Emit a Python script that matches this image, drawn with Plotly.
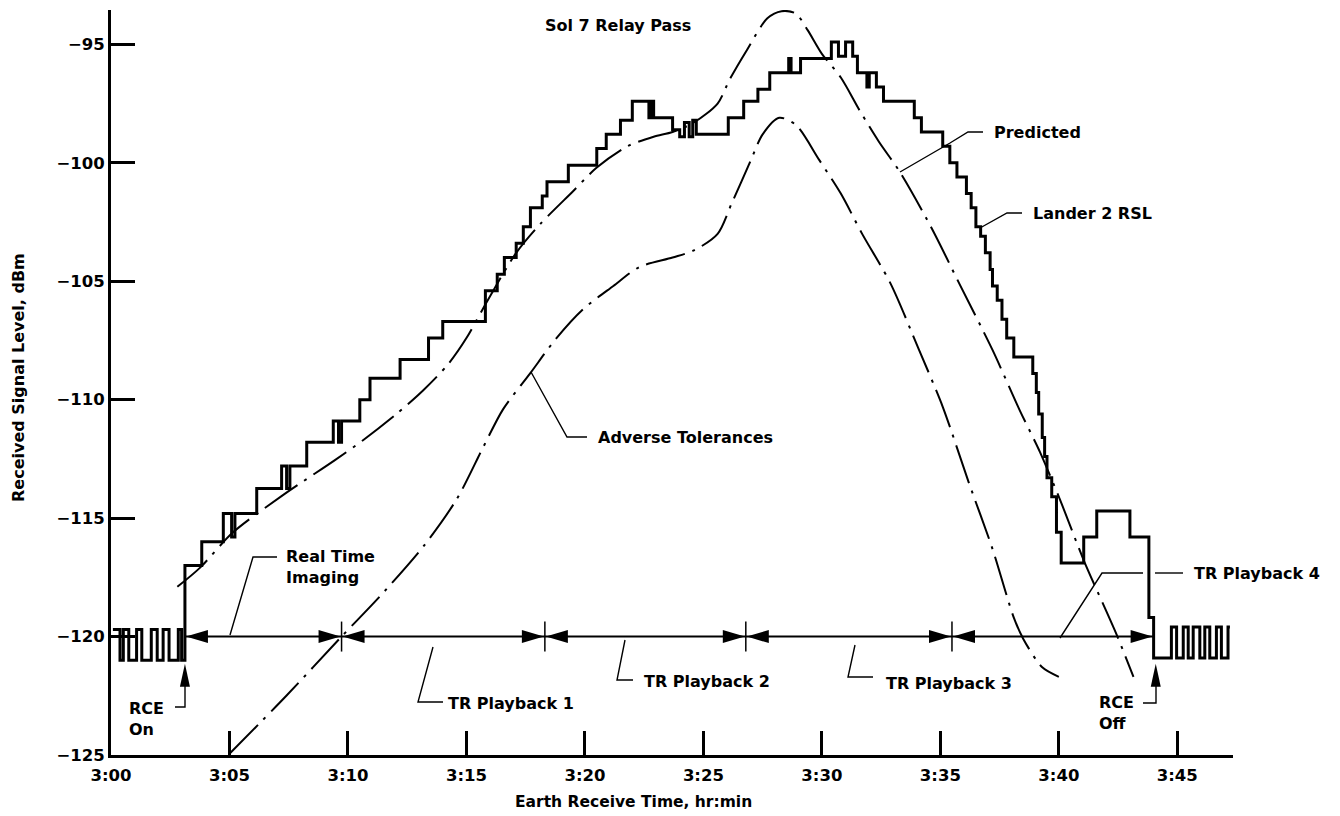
import plotly.graph_objects as go

# ---------------- data (minutes after 3:00, dBm) ----------------
TIME_TICKS = [0, 5, 10, 15, 20, 25, 30, 35, 40, 45]
TIME_LABELS = ["3:00", "3:05", "3:10", "3:15", "3:20", "3:25", "3:30", "3:35", "3:40", "3:45"]
LEVEL_TICKS = [-125, -120, -115, -110, -105, -100, -95]

# Lander 2 RSL (step record: level holds from each time to the next)
RSL_MIN = [0.08, 0.38, 0.52, 0.75, 1.08, 1.30, 1.70, 1.95, 2.20, 2.45, 2.84, 2.98,
           3.12, 3.83, 4.74, 5.09, 5.23, 6.15, 7.20, 7.41, 7.55, 8.26, 9.38, 9.60,
           9.73, 10.50, 10.93, 12.20, 13.40, 14.00, 15.80, 16.30, 16.60, 17.10, 17.40,
           17.70, 18.20, 18.40, 19.30, 20.50, 20.90, 21.50, 22.00, 22.70, 22.80, 22.90,
           23.70, 24.00, 24.20, 24.40, 24.55, 24.70, 26.05, 26.70, 27.30, 27.80, 28.60,
           28.70, 29.10, 30.40, 30.70, 31.00, 31.30, 31.50, 31.90, 32.00, 32.30, 32.60,
           33.90, 34.20, 35.10, 35.40, 35.70, 36.10, 36.30, 36.50, 36.70, 36.90, 37.10,
           37.20, 37.40, 37.60, 37.80, 38.10, 38.90, 39.05, 39.15, 39.30, 39.40, 39.50,
           39.70, 39.90, 40.10, 41.05, 41.60, 43.00, 43.80, 44.00, 44.75, 44.97, 45.25,
           45.46, 45.67, 45.95, 46.16, 46.37, 46.65, 46.86, 47.14, 47.22]
RSL_DBM = [-119.7, -121.0, -119.7, -121.0, -119.7, -121.0, -119.7, -121.0, -119.7, -121.0, -119.7, -121.0,
           -117.0, -116.0, -114.8, -115.8, -114.8, -113.75, -112.8, -113.75, -112.8, -111.8, -110.9, -111.8,
           -110.9, -110.0, -109.1, -108.3, -107.4, -106.7, -105.4, -104.7, -104.0, -103.4, -102.7,
           -101.9, -101.4, -100.8, -100.1, -99.4, -98.8, -98.2, -97.4, -98.1, -97.4, -98.1,
           -98.6, -98.9, -98.3, -98.9, -98.2, -98.8, -98.1, -97.4, -96.9, -96.2, -95.6,
           -96.2, -95.6, -94.9, -95.5, -94.9, -95.5, -96.2, -96.8, -96.2, -96.8, -97.4,
           -98.1, -98.7, -99.3, -100.0, -100.6, -101.3, -101.9, -102.7, -103.1, -103.8, -104.5,
           -105.2, -105.8, -106.6, -107.4, -108.2, -108.9, -109.7, -110.6, -111.6, -112.4, -113.3,
           -114.1, -115.6, -116.9, -115.8, -114.7, -115.8, -119.2, -120.9, -119.6, -120.9, -119.6,
           -120.9, -119.6, -120.9, -119.6, -120.9, -119.6, -120.9, -119.6, -119.6]

# Predicted
PRED_MIN = [2.8, 3.75, 5.15, 7.3, 9.45, 10.65, 12.05, 13.18, 14.23, 15.0, 15.9, 17.1, 18.1,
            19.5, 20.5, 21.8, 22.9, 23.7, 24.6, 25.6, 26.1, 26.8, 27.7, 28.3, 28.9, 29.4,
            30.0, 30.8, 31.6, 32.4, 33.3, 34.6, 35.8, 37.2, 38.35, 39.2, 40.04, 41.06,
            42.43, 43.15]
PRED_DBM = [-117.9, -117.1, -115.6, -114.0, -112.55, -111.7, -110.6, -109.6, -108.5, -107.4,
            -105.8, -103.8, -102.6, -101.2, -100.2, -99.3, -98.9, -98.7, -98.3, -97.5, -96.5,
            -95.3, -93.9, -93.6, -93.7, -94.4, -95.4, -96.4, -97.8, -99.1, -100.4, -102.7,
            -105.1, -107.9, -110.45, -112.2, -114.2, -116.8, -119.9, -121.7]

# Adverse Tolerances
ADV_MIN = [5.0, 7.4, 9.73, 11.35, 13.18, 14.59, 15.71, 16.55, 17.68, 18.8, 19.9, 21.2, 22.3,
           23.7, 24.6, 25.6, 26.2, 27.0, 27.5, 28.2, 28.9, 29.9, 30.8, 31.7, 32.9, 34.1,
           35.1, 36.2, 37.2, 38.1, 38.5, 39.3, 40.0]
ADV_DBM = [-124.95, -122.5, -120.0, -118.3, -116.2, -114.2, -112.0, -110.4, -108.9, -107.4,
           -106.2, -105.2, -104.4, -104.0, -103.7, -103.0, -101.7, -99.9, -98.8, -98.1, -98.4,
           -99.9, -101.3, -103.0, -105.1, -107.9, -110.3, -113.5, -116.3, -119.2, -120.1,
           -121.3, -121.7]

# Data-transmission segments (boundaries in minutes) drawn at one level
SEGMENT_BOUNDS = [3.12, 9.73, 18.31, 26.79, 35.49, 44.0]
SEGMENT_LEVEL = -120.0
RCE_ON_MIN = 3.12
RCE_OFF_MIN = 44.09
RCE_ARROW_DBM = -121.15

# ---------------- layout helpers ----------------
FONT = "DejaVu Sans"
W, H = 1340, 816
ML, MR, MT, MB = 111, 107, 10, 61
X_RANGE = [0, 47.35]
Y_RANGE = [-125, -93.55]


def dx(px):
    return X_RANGE[0] + (px - ML) / (W - ML - MR) * (X_RANGE[1] - X_RANGE[0])


def dy(py):
    return Y_RANGE[0] + (H - MB - py) / (H - MT - MB) * (Y_RANGE[1] - Y_RANGE[0])


def poly(points):
    return "M " + " L ".join(f"{dx(px):.4f},{dy(py):.4f}" for px, py in points)


DASHDOT = "40px,8px,3px,8px"
fig = go.Figure()

fig.add_trace(go.Scatter(x=PRED_MIN, y=PRED_DBM, mode="lines", hoverinfo="skip",
                         line=dict(color="black", width=2, dash=DASHDOT, shape="spline", smoothing=0.8)))
fig.add_trace(go.Scatter(x=ADV_MIN, y=ADV_DBM, mode="lines", hoverinfo="skip",
                         line=dict(color="black", width=2, dash=DASHDOT, shape="spline", smoothing=0.8)))
fig.add_trace(go.Scatter(x=[SEGMENT_BOUNDS[0], SEGMENT_BOUNDS[-1]], y=[SEGMENT_LEVEL, SEGMENT_LEVEL],
                         mode="lines", hoverinfo="skip", line=dict(color="black", width=2)))
fig.add_trace(go.Scatter(x=RSL_MIN, y=RSL_DBM, mode="lines", hoverinfo="skip",
                         line=dict(color="black", width=3, shape="hv")))

shapes = []
AL, AH = 22, 6.5
for i, b in enumerate(SEGMENT_BOUNDS):
    common = dict(type="path", xref="x", yref="y", xsizemode="pixel", ysizemode="pixel",
                  xanchor=b, yanchor=SEGMENT_LEVEL, fillcolor="black", line=dict(width=0))
    if i > 0:  # arrow pointing right, tip at boundary
        shapes.append(dict(path=f"M -1,0 L {-1-AL},{AH} L {-1-AL},{-AH} Z", **common))
    if i < len(SEGMENT_BOUNDS) - 1:  # arrow pointing left
        shapes.append(dict(path=f"M 1,0 L {1+AL},{AH} L {1+AL},{-AH} Z", **common))
    if 0 < i < len(SEGMENT_BOUNDS) - 1:
        shapes.append(dict(type="line", xref="x", yref="y", ysizemode="pixel", yanchor=SEGMENT_LEVEL,
                           x0=b, x1=b, y0=-15, y1=15, line=dict(color="black", width=1.5)))

# RCE arrows (pointing up)
for t in (RCE_ON_MIN, RCE_OFF_MIN):
    shapes.append(dict(type="path", xref="x", yref="y", xsizemode="pixel", ysizemode="pixel",
                       xanchor=t, yanchor=RCE_ARROW_DBM, path="M 0,0 L -5,-23 L 5,-23 Z",
                       fillcolor="black", line=dict(width=0)))

LEADERS = [
    [(230, 635), (253, 557), (277, 557)],                 # Real Time Imaging
    [(433, 647), (418, 702), (443, 702)],                 # TR Playback 1
    [(625, 640), (617, 680), (633, 680)],                 # TR Playback 2
    [(855, 645), (848, 677), (873, 677)],                 # TR Playback 3
    [(1060, 638), (1102, 573), (1143, 573)],              # TR Playback 4
    [(1155, 573), (1183, 573)],
    [(175, 707), (185, 707), (185, 680)],                 # RCE On
    [(1143, 703), (1156, 703), (1156, 680)],              # RCE Off
    [(531, 372), (567, 437), (587, 437)],                 # Adverse Tolerances
    [(900, 172), (950, 143), (968, 132), (983, 132)],     # Predicted
    [(980, 228), (1007, 213), (1022, 213)],               # Lander 2 RSL
]
for pts in LEADERS:
    shapes.append(dict(type="path", xref="x", yref="y", path=poly(pts),
                       line=dict(color="black", width=1.4)))

LABELS = [
    ("Sol 7 Relay Pass", 543, 25),
    ("Predicted", 992, 132),
    ("Lander 2 RSL", 1031, 213),
    ("Adverse Tolerances", 596, 437),
    ("Real Time<br>Imaging", 284, 567),
    ("TR Playback 1", 446, 703),
    ("TR Playback 2", 642, 681),
    ("TR Playback 3", 884, 683),
    ("TR Playback 4", 1192, 573),
    ("RCE<br>On", 127, 719),
    ("RCE<br>Off", 1097, 713),
]
annotations = []
for text, px, py in LABELS:
    annotations.append(dict(text=text, x=dx(px), y=dy(py), xref="x", yref="y", xanchor="left",
                            yanchor="middle", align="left", showarrow=False,
                            font=dict(family=FONT, size=16, color="black", weight="bold")))

annotations.append(dict(text="Received Signal Level, dBm", textangle=-90, xref="paper", yref="y",
                        x=(18 - ML) / (W - ML - MR), y=dy(378), xanchor="center", yanchor="middle",
                        showarrow=False, font=dict(family=FONT, size=16, color="black", weight="bold")))
annotations.append(dict(text="Earth Receive Time, hr:min", xref="x", yref="paper",
                        x=dx(633), y=-(802 - (H - MB)) / (H - MT - MB), xanchor="center", yanchor="middle",
                        showarrow=False, font=dict(family=FONT, size=15.5, color="black", weight="bold")))

axis_common = dict(showgrid=False, zeroline=False, showline=True, linecolor="black", linewidth=3,
                   ticks="inside", ticklen=24, tickwidth=2.5, tickcolor="black", automargin=False,
                   tickfont=dict(family=FONT, size=16.5, color="black", weight="bold"))

fig.update_layout(
    width=W, height=H, margin=dict(l=ML, r=MR, t=MT, b=MB),
    paper_bgcolor="white", plot_bgcolor="white", showlegend=False,
    xaxis=dict(range=X_RANGE, tickvals=TIME_TICKS, ticktext=TIME_LABELS, ticklabelstandoff=3, **axis_common),
    yaxis=dict(range=Y_RANGE, tickvals=LEVEL_TICKS, ticklabelstandoff=0, **axis_common),
    shapes=shapes, annotations=annotations,
)

fig.write_html("out.html", config={"displayModeBar": False},
               post_script="document.body.style.margin='0';")
